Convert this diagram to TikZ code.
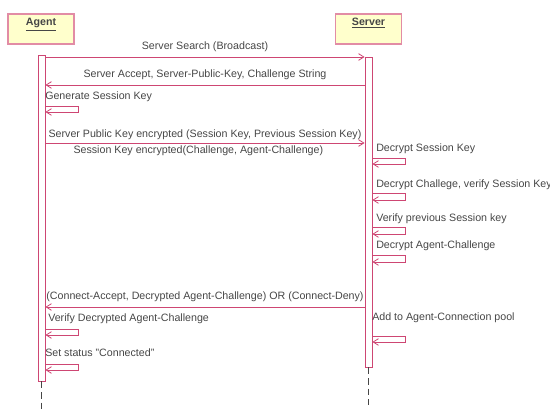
\documentclass[tikz,border=0pt]{standalone}
\usepackage{fontspec}
\setmainfont{Liberation Sans}
\usetikzlibrary{arrows.meta}
\definecolor{umlline}{RGB}{206,70,115}
\definecolor{umledge}{RGB}{226,140,165}
\definecolor{umlfill}{RGB}{255,255,204}
\definecolor{umltext}{RGB}{70,70,70}

\begin{document}
\begin{tikzpicture}[x=0.75pt,y=-0.75pt,
  font=\fontsize{8}{9.5}\selectfont,
  every node/.style={text=umltext},
  obj/.style={draw=umledge, line width=0.9pt, fill=umlfill,
    minimum width=49.5pt, minimum height=22.5pt},
  bar/.style={draw=umlline, fill=white, line width=0.6pt,
    minimum width=5.25pt, inner sep=0pt},
  msg/.style={draw=umlline, line width=0.6pt,
    -{Straight Barb[length=4pt,width=5pt]}},
  life/.style={draw=umltext, dash pattern=on 5pt off 3pt, line width=0.5pt},
  note/.style={anchor=west, inner sep=0pt},
  ]
  \useasboundingbox (0,0) rectangle (550,410);
  % objects
  \node[obj, label={[anchor=north, inner sep=3.5pt]north:\textbf{\underline{Agent}}}] (agent) at (41,29) {};
  \node[obj, label={[anchor=north, inner sep=3.5pt]north:\textbf{\underline{Server}}}] (server) at (368.5,29) {};
  % activation bars
  \node[bar, minimum height=244.5pt] (abar) at (41.5,218) {};
  \node[bar, minimum height=232.5pt] (sbar) at (368.5,212) {};
  \draw[life] (abar.south) -- ++(0,32);
  \draw[life] (sbar.south) -- ++(0,38);
  % messages
  \draw[msg] (abar.east |- 0,57) -- node[above] (m1) {Server Search (Broadcast)} (sbar.west |- 0,57);
  \draw[msg] (sbar.west |- 0,85) -- node[above] (m2) {Server Accept, Server-Public-Key, Challenge String} (abar.east |- 0,85);
  \node[note] (n1) at (45,97) {Generate Session Key};
  \draw[msg] (abar.east |- 0,106) -- ++(33,0) |- (abar.east |- 0,112);
  \draw[msg] (abar.east |- 0,143) -- node[above, inner sep=2pt] (m3) {Server Public Key encrypted (Session Key, Previous Session Key)}
    node[below, inner sep=1.5pt, xshift=-5pt] (m3b) {Session Key encrypted(Challenge, Agent-Challenge)} (sbar.west |- 0,143);
  % server side
  \node[note] (n2) at (376,149) {Decrypt Session Key};
  \draw[msg] (sbar.east |- 0,158) -- ++(33,0) |- (sbar.east |- 0,164);
  \node[note] (n3) at (376,185) {Decrypt Challege, verify Session Key};
  \draw[msg] (sbar.east |- 0,193) -- ++(33,0) |- (sbar.east |- 0,200);
  \node[note] (n4) at (376,219) {Verify previous Session key};
  \draw[msg] (sbar.east |- 0,227) -- ++(33,0) |- (sbar.east |- 0,234);
  \node[note] (n5) at (376,246) {Decrypt Agent-Challenge};
  \draw[msg] (sbar.east |- 0,255) -- ++(33,0) |- (sbar.east |- 0,262);
  % reply
  \draw[msg] (sbar.west |- 0,307) -- node[above] (m4) {(Connect-Accept, Decrypted Agent-Challenge) OR (Connect-Deny)} (abar.east |- 0,307);
  \node[note] (n6) at (48,319) {Verify Decrypted Agent-Challenge};
  \draw[msg] (abar.east |- 0,329) -- ++(33,0) |- (abar.east |- 0,335);
  \node[note] (n7) at (45,353) {Set status ''Connected''};
  \draw[msg] (abar.east |- 0,364) -- ++(33,0) |- (abar.east |- 0,370);
  \node[note] (n8) at (372,318) {Add to Agent-Connection pool};
  \draw[msg] (sbar.east |- 0,336) -- ++(33,0) |- (sbar.east |- 0,342);
\end{tikzpicture}
\end{document}
